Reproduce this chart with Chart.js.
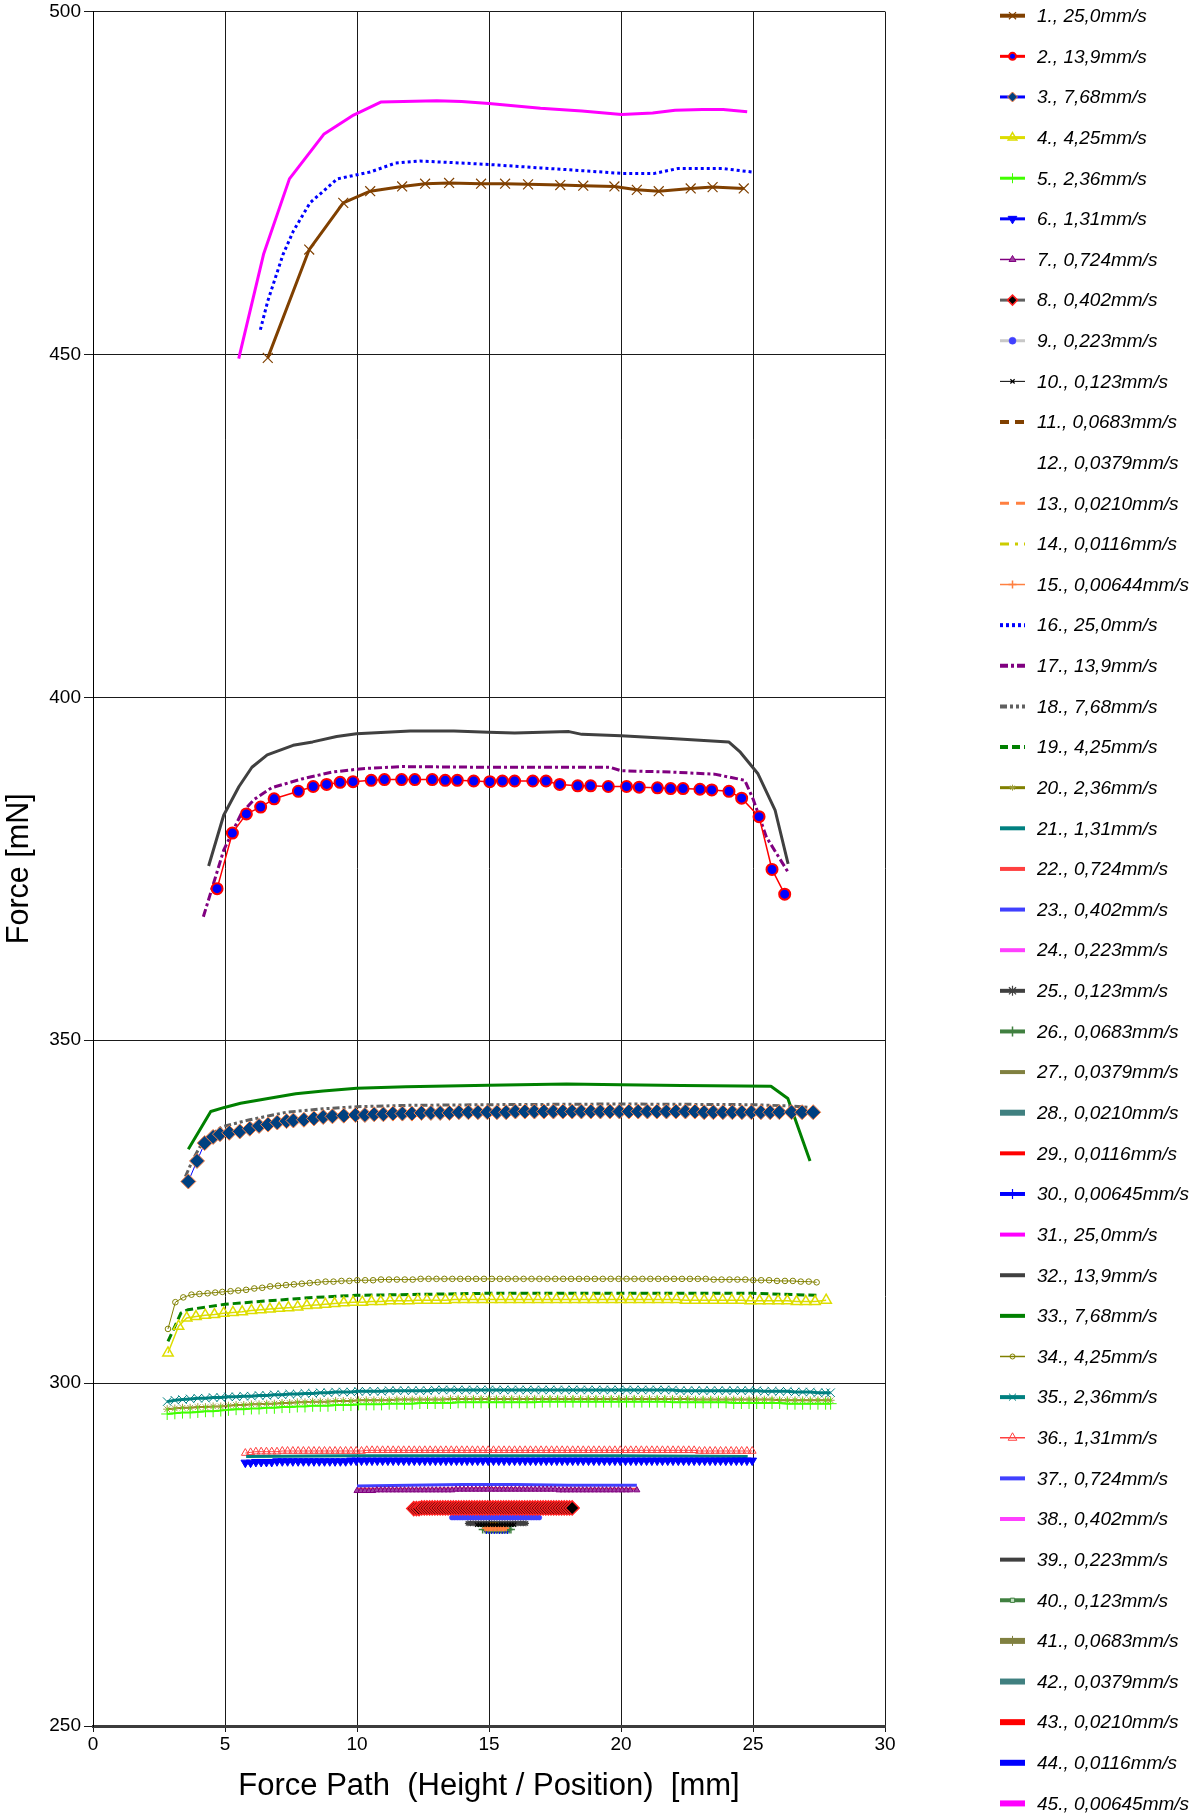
<!DOCTYPE html>
<html>
<head>
<meta charset="utf-8">
<script src="https://cdn.jsdelivr.net/npm/chart.js@4.4.1/dist/chart.umd.min.js"></script>
<style>
html,body{margin:0;padding:0;background:#fff;}
#c{display:block;}
</style>
</head>
<body>
<canvas id="c" width="1194" height="1815"></canvas>
<script>
// ---------------- DATA ----------------
const seriesLabels = [
 "1., 25,0mm/s","2., 13,9mm/s","3., 7,68mm/s","4., 4,25mm/s","5., 2,36mm/s",
 "6., 1,31mm/s","7., 0,724mm/s","8., 0,402mm/s","9., 0,223mm/s","10., 0,123mm/s",
 "11., 0,0683mm/s","12., 0,0379mm/s","13., 0,0210mm/s","14., 0,0116mm/s","15., 0,00644mm/s",
 "16., 25,0mm/s","17., 13,9mm/s","18., 7,68mm/s","19., 4,25mm/s","20., 2,36mm/s",
 "21., 1,31mm/s","22., 0,724mm/s","23., 0,402mm/s","24., 0,223mm/s","25., 0,123mm/s",
 "26., 0,0683mm/s","27., 0,0379mm/s","28., 0,0210mm/s","29., 0,0116mm/s","30., 0,00645mm/s",
 "31., 25,0mm/s","32., 13,9mm/s","33., 7,68mm/s","34., 4,25mm/s","35., 2,36mm/s",
 "36., 1,31mm/s","37., 0,724mm/s","38., 0,402mm/s","39., 0,223mm/s","40., 0,123mm/s",
 "41., 0,0683mm/s","42., 0,0379mm/s","43., 0,0210mm/s","44., 0,0116mm/s","45., 0,00645mm/s"
];
const xTicks = [0,5,10,15,20,25,30];
const yTicks = [250,300,350,400,450,500];

// 25,0 mm/s
const s1x = [6.62,8.19,9.48,10.50,11.71,12.58,13.49,14.70,15.61,16.48,17.70,18.57,19.75,20.60,21.43,22.64,23.47,24.65];
const s1y = [449.5,465.3,472.1,473.8,474.5,474.9,475.0,474.9,474.9,474.8,474.7,474.6,474.5,474.0,473.8,474.2,474.4,474.2];
const s16x = [6.34,6.62,7.20,7.59,8.22,9.25,10.50,11.45,12.39,13.49,15.00,16.95,18.52,20.02,21.27,22.14,23.87,24.97];
const s16y = [453.6,457.8,464.6,468.0,472.1,475.6,476.6,477.9,478.2,478.0,477.7,477.2,476.8,476.4,476.4,477.1,477.1,476.6];
const s31x = [5.52,6.46,7.44,8.74,9.87,10.90,13.02,13.96,15.00,16.95,18.52,20.02,21.20,22.05,23.08,23.87,24.78];
const s31y = [449.4,464.6,475.6,482.1,484.9,486.8,487.0,486.9,486.6,485.9,485.5,485.0,485.2,485.6,485.7,485.7,485.4];

// 13,9 mm/s
const s2x = [4.70,5.28,5.81,6.35,6.86,7.78,8.34,8.85,9.36,9.85,10.54,11.04,11.69,12.19,12.85,13.34,13.80,14.42,15.03,15.51,15.97,16.66,17.16,17.68,18.36,18.85,19.52,20.21,20.69,21.38,21.88,22.35,22.99,23.44,24.09,24.57,25.23,25.72,26.20];
const s2y = [372.1,380.2,383.0,384.0,385.2,386.3,387.0,387.3,387.6,387.7,387.9,388.0,388.0,388.0,388.0,387.9,387.9,387.8,387.7,387.8,387.8,387.8,387.8,387.3,387.1,387.1,387.0,387.0,386.9,386.8,386.7,386.7,386.6,386.5,386.3,385.3,382.6,374.9,371.3];
const s17x = [4.18,4.95,5.61,6.10,6.76,7.91,9.06,10.21,11.69,14.98,17.94,19.59,20.00,21.89,23.54,24.69,25.02,25.51,26.33];
const s17y = [368.0,377.7,383.0,385.1,386.8,388.1,389.1,389.6,389.9,389.8,389.8,389.8,389.3,389.1,388.8,387.9,385.0,379.6,374.5];
const s32x = [4.38,4.95,5.53,6.02,6.60,7.58,8.32,9.23,9.98,12.02,13.67,14.98,15.97,18.03,18.52,20.00,21.89,24.08,24.52,25.18,25.84,26.33];
const s32y = [375.4,382.8,387.0,389.8,391.6,393.0,393.5,394.3,394.7,395.1,395.1,394.9,394.8,395.0,394.6,394.4,394.0,393.5,392.0,388.9,383.5,375.7];

// 7,68 mm/s
const s3x = [3.61,3.94,4.23,4.55,4.81,5.16,5.56,5.94,6.29,6.63,6.98,7.33,7.59,7.99,8.37,8.72,9.07,9.50,9.94,
 10.30,10.65,11.00,11.36,11.72,12.08,12.44,12.80,13.15,13.50,13.86,14.22,14.58,14.94,15.30,15.65,16.00,16.36,16.72,17.08,
 17.44,17.80,18.15,18.50,18.86,19.22,19.58,19.94,20.30,20.65,21.00,21.36,21.72,22.08,22.44,22.80,23.15,23.50,23.86,24.22,
 24.58,24.94,25.30,25.65,26.00,26.46,26.86,27.28];
const s3y = [329.4,332.4,335.0,335.9,336.3,336.5,336.7,337.1,337.5,337.7,338.0,338.2,338.3,338.4,338.6,338.8,338.9,339.0,339.1,
 339.1,339.2,339.2,339.3,339.3,339.3,339.4,339.4,339.4,339.4,339.5,339.5,339.5,339.5,339.5,339.5,339.6,339.6,339.6,339.6,
 339.6,339.6,339.6,339.6,339.6,339.6,339.6,339.6,339.6,339.6,339.6,339.6,339.6,339.6,339.6,339.6,339.5,339.5,339.5,339.5,
 339.5,339.5,339.5,339.5,339.5,339.5,339.5,339.5];
const s18x = [3.50,3.77,4.20,4.90,5.94,7.33,8.72,9.99,11.85,14.98,19.99,25.00,26.46,27.16];
const s18y = [330.1,332.5,335.5,337.4,338.4,339.5,340.0,340.3,340.5,340.6,340.7,340.6,340.4,340.2];
const s33x = [3.61,4.46,4.98,5.59,6.63,7.68,8.72,9.99,11.85,14.98,17.94,19.99,22.29,25.68,26.32,27.16];
const s33y = [334.1,339.6,340.2,340.8,341.5,342.2,342.6,343.0,343.2,343.45,343.6,343.5,343.4,343.3,341.5,332.4];

// 4,25 mm/s
const s4x = [2.84,3.24,3.55,3.90,4.25,4.60,4.95,5.30,5.65,6.00,6.35,6.70,7.05,7.40,7.75,8.10,8.45,8.80,9.15,9.50,
 9.85,10.20,10.55,10.90,11.25,11.60,11.95,12.30,12.65,13.00,13.35,13.70,14.05,14.40,14.75,15.10,15.45,15.80,16.15,16.50,
 16.85,17.20,17.55,17.90,18.25,18.60,18.95,19.30,19.65,20.00,20.35,20.70,21.05,21.40,21.75,22.10,22.45,22.80,23.15,23.50,
 23.85,24.20,24.55,24.90,25.25,25.60,25.95,26.30,26.65,27.00,27.35,27.77];
const s4y = [304.4,308.3,309.5,309.7,309.9,310.0,310.2,310.3,310.4,310.6,310.7,310.8,310.9,311.0,311.1,311.3,311.4,311.5,311.6,311.7,
 311.8,311.8,311.9,311.9,312.0,312.0,312.0,312.1,312.1,312.1,312.1,312.2,312.2,312.2,312.2,312.2,312.2,312.2,312.2,312.2,
 312.2,312.2,312.2,312.2,312.2,312.2,312.2,312.2,312.2,312.2,312.2,312.2,312.2,312.2,312.2,312.2,312.1,312.1,312.1,312.1,
 312.1,312.1,312.1,312.0,312.0,312.0,312.0,312.0,311.9,311.9,311.9,312.1];
const s19x = [2.84,3.07,3.33,3.59,5.00,6.63,8.37,9.99,14.98,19.99,25.00,27.42];
const s19y = [306.1,308.0,310.2,310.7,311.5,312.0,312.5,312.8,313.1,313.1,313.1,312.8];
const s34x = [2.84,3.12,3.42,3.73,4.03,4.34,4.63,4.90,5.21,5.50,5.80,6.11,6.41,6.71,7.01,7.31,7.61,7.91,8.21,8.51,
 8.81,9.11,9.41,9.71,10.01,10.31,10.61,10.91,11.21,11.51,11.81,12.11,12.41,12.71,13.01,13.31,13.61,13.91,14.21,14.51,
 14.81,15.11,15.41,15.71,16.01,16.31,16.61,16.91,17.21,17.51,17.81,18.11,18.41,18.71,19.01,19.31,19.61,19.91,20.21,20.51,
 20.81,21.11,21.41,21.71,22.01,22.31,22.61,22.91,23.21,23.51,23.81,24.11,24.41,24.71,25.01,25.31,25.61,25.91,26.21,26.51,
 26.81,27.11,27.41];
const s34y = [307.9,311.8,312.5,312.9,313.0,313.1,313.2,313.3,313.4,313.5,313.6,313.8,313.9,314.1,314.2,314.3,314.4,314.5,314.6,314.7,
 314.8,314.8,314.9,314.9,315.0,315.0,315.0,315.1,315.1,315.1,315.1,315.1,315.2,315.2,315.2,315.2,315.2,315.2,315.2,315.2,
 315.2,315.2,315.2,315.2,315.2,315.2,315.2,315.2,315.2,315.2,315.2,315.2,315.2,315.2,315.2,315.2,315.2,315.2,315.2,315.2,
 315.2,315.2,315.2,315.2,315.2,315.2,315.2,315.2,315.2,315.1,315.1,315.1,315.1,315.1,315.0,315.0,315.0,314.9,314.9,314.9,
 314.8,314.8,314.7];

// 2,36 mm/s (common sampling)
const s5x = [2.81,3.10,3.39,3.68,3.97,4.26,4.55,4.84,5.13,5.42,5.71,6.00,6.29,6.58,6.87,7.16,7.45,7.74,8.03,8.32,
 8.61,8.90,9.19,9.48,9.77,10.06,10.35,10.64,10.93,11.22,11.51,11.80,12.09,12.38,12.67,12.96,13.25,13.54,13.83,14.12,
 14.41,14.70,14.99,15.28,15.57,15.86,16.15,16.44,16.73,17.02,17.31,17.60,17.89,18.18,18.47,18.76,19.05,19.34,19.63,19.92,
 20.21,20.50,20.79,21.08,21.37,21.66,21.95,22.24,22.53,22.82,23.11,23.40,23.69,23.98,24.27,24.56,24.85,25.14,25.43,25.72,
 26.01,26.30,26.59,26.88,27.17,27.46,27.75,27.94];
const s5y = [295.5,295.6,295.7,295.7,295.8,295.9,295.9,296.0,296.1,296.2,296.2,296.3,296.3,296.4,296.4,296.5,296.5,296.6,296.6,296.7,
 296.7,296.7,296.8,296.8,296.8,296.9,296.9,296.9,296.9,297.0,297.0,297.0,297.0,297.1,297.1,297.1,297.1,297.1,297.2,297.2,
 297.2,297.2,297.2,297.2,297.2,297.2,297.2,297.2,297.2,297.3,297.3,297.3,297.3,297.3,297.3,297.3,297.3,297.3,297.3,297.3,
 297.3,297.3,297.3,297.3,297.3,297.3,297.2,297.2,297.2,297.2,297.2,297.2,297.2,297.2,297.1,297.1,297.1,297.1,297.1,297.1,
 297.1,297.0,297.0,297.0,297.0,297.0,297.0,297.0];
const s20y = [296.2,296.3,296.4,296.4,296.5,296.5,296.6,296.6,296.7,296.8,296.8,296.9,296.9,297.0,297.0,297.1,297.1,297.2,297.2,297.3,
 297.3,297.3,297.4,297.4,297.4,297.5,297.5,297.5,297.5,297.5,297.6,297.6,297.6,297.6,297.6,297.6,297.6,297.7,297.7,297.7,
 297.7,297.7,297.7,297.7,297.7,297.7,297.7,297.7,297.7,297.7,297.7,297.7,297.7,297.7,297.7,297.7,297.7,297.7,297.7,297.7,
 297.7,297.7,297.7,297.7,297.7,297.7,297.7,297.7,297.7,297.6,297.6,297.6,297.6,297.6,297.6,297.6,297.6,297.6,297.6,297.6,
 297.5,297.5,297.5,297.5,297.5,297.5,297.5,297.5];
const s35y = [297.3,297.5,297.6,297.7,297.8,297.8,297.9,297.9,298.0,298.0,298.1,298.1,298.2,298.2,298.3,298.3,298.4,298.4,298.5,298.5,
 298.6,298.6,298.7,298.7,298.7,298.8,298.8,298.8,298.8,298.9,298.9,298.9,298.9,298.9,298.9,299.0,299.0,299.0,299.0,299.0,
 299.0,299.0,299.0,299.0,299.0,299.0,299.0,299.0,299.0,299.0,299.0,299.0,299.0,299.0,299.0,299.0,299.0,299.0,299.0,299.0,
 299.0,299.0,299.0,299.0,299.0,299.0,299.0,298.9,298.9,298.9,298.9,298.9,298.9,298.9,298.9,298.9,298.9,298.9,298.8,298.8,
 298.8,298.8,298.7,298.7,298.7,298.6,298.6,298.6];

// 1,31 mm/s (common sampling)
const s6x = [5.77,5.97,6.17,6.37,6.57,6.77,6.97,7.17,7.37,7.57,7.77,7.97,8.17,8.37,8.57,8.77,8.97,9.17,9.37,9.57,
 9.77,9.97,10.17,10.37,10.57,10.77,10.97,11.17,11.37,11.57,11.77,11.97,12.17,12.37,12.57,12.77,12.97,13.17,13.37,13.57,
 13.77,13.97,14.17,14.37,14.57,14.77,14.97,15.17,15.37,15.57,15.77,15.97,16.17,16.37,16.57,16.77,16.97,17.17,17.37,17.57,
 17.77,17.97,18.17,18.37,18.57,18.77,18.97,19.17,19.37,19.57,19.77,19.97,20.17,20.37,20.57,20.77,20.97,21.17,21.37,21.57,
 21.77,21.97,22.17,22.37,22.57,22.77,22.97,23.17,23.37,23.57,23.77,23.97,24.17,24.37,24.57,24.77,24.97];
const s6y = [288.4,288.4,288.5,288.5,288.5,288.5,288.6,288.6,288.6,288.6,288.6,288.6,288.6,288.6,288.6,288.6,288.6,288.6,288.6,288.6,
 288.7,288.7,288.7,288.7,288.7,288.7,288.7,288.7,288.7,288.7,288.7,288.7,288.7,288.7,288.7,288.7,288.7,288.7,288.7,288.7,
 288.7,288.7,288.7,288.7,288.7,288.7,288.7,288.7,288.7,288.7,288.7,288.7,288.7,288.7,288.7,288.7,288.7,288.7,288.7,288.7,
 288.7,288.7,288.7,288.7,288.7,288.7,288.7,288.7,288.7,288.7,288.7,288.7,288.7,288.7,288.7,288.7,288.7,288.7,288.7,288.7,
 288.7,288.7,288.7,288.7,288.7,288.7,288.7,288.7,288.7,288.7,288.7,288.7,288.7,288.7,288.7,288.7,288.7];
const s36y = [289.8,289.9,290.0,290.0,290.0,290.0,290.0,290.1,290.1,290.1,290.1,290.1,290.1,290.1,290.1,290.1,290.1,290.1,290.1,290.1,
 290.1,290.1,290.1,290.2,290.2,290.2,290.2,290.2,290.2,290.2,290.2,290.2,290.2,290.2,290.2,290.2,290.2,290.2,290.2,290.2,
 290.2,290.2,290.2,290.2,290.2,290.2,290.2,290.2,290.2,290.2,290.2,290.2,290.2,290.2,290.2,290.2,290.2,290.2,290.2,290.2,
 290.2,290.2,290.2,290.2,290.2,290.2,290.2,290.2,290.2,290.2,290.2,290.2,290.2,290.2,290.2,290.2,290.2,290.2,290.2,290.2,
 290.2,290.2,290.2,290.2,290.2,290.2,290.1,290.1,290.1,290.1,290.1,290.1,290.1,290.1,290.1,290.1,290.1];
const s21x = [5.80,10.00,15.00,20.00,24.80];
const s21y = [289.3,289.4,289.4,289.4,289.3];

// 0,724 mm/s
const s7x = [10.00,10.15,10.30,10.45,10.60,10.75,10.90,11.05,11.20,11.35,11.50,11.65,11.80,11.95,12.10,12.25,12.40,12.55,12.70,12.85,
 13.00,13.15,13.30,13.45,13.60,13.75,13.90,14.05,14.20,14.35,14.50,14.65,14.80,14.95,15.10,15.25,15.40,15.55,15.70,15.85,
 16.00,16.15,16.30,16.45,16.60,16.75,16.90,17.05,17.20,17.35,17.50,17.65,17.80,17.95,18.10,18.25,18.40,18.55,18.70,18.85,
 19.00,19.15,19.30,19.45,19.60,19.75,19.90,20.05,20.20,20.35,20.60];
const s7y = [284.3,284.3,284.3,284.3,284.3,284.4,284.4,284.4,284.4,284.4,284.4,284.4,284.4,284.4,284.4,284.4,284.4,284.4,284.4,284.4,
 284.4,284.4,284.4,284.4,284.4,284.5,284.5,284.5,284.5,284.5,284.5,284.5,284.5,284.5,284.5,284.5,284.5,284.5,284.5,284.5,
 284.5,284.5,284.5,284.5,284.5,284.5,284.5,284.5,284.5,284.5,284.5,284.4,284.4,284.4,284.4,284.4,284.4,284.4,284.4,284.4,
 284.4,284.4,284.4,284.4,284.4,284.4,284.4,284.4,284.4,284.4,284.4];
const s22x = [10.00,12.50,15.00,17.50,20.60];
const s22y = [284.6,284.6,284.7,284.6,284.6];
const s37x = [10.00,12.00,14.00,16.00,18.00,20.60];
const s37y = [285.0,285.1,285.2,285.2,285.1,285.1];

// 0,402 mm/s
const s8x = [12.15,12.25,12.35,12.45,12.55,12.65,12.75,12.85,12.95,13.05,13.15,13.25,13.35,13.45,13.55,13.65,13.75,13.85,13.95,14.05,
 14.15,14.25,14.35,14.45,14.55,14.65,14.75,14.85,14.95,15.05,15.15,15.25,15.35,15.45,15.55,15.65,15.75,15.85,15.95,16.05,
 16.15,16.25,16.35,16.45,16.55,16.65,16.75,16.85,16.95,17.05,17.15,17.25,17.35,17.45,17.55,17.65,17.75,17.85,17.95,18.05,18.15];
const s8y = [281.7,281.7,281.7,281.8,281.8,281.8,281.8,281.8,281.8,281.8,281.8,281.8,281.8,281.8,281.8,281.8,281.8,281.8,281.8,281.8,
 281.8,281.8,281.8,281.8,281.8,281.8,281.8,281.8,281.8,281.8,281.8,281.8,281.8,281.8,281.8,281.8,281.8,281.8,281.8,281.8,
 281.8,281.8,281.8,281.8,281.8,281.8,281.8,281.8,281.8,281.8,281.8,281.8,281.8,281.8,281.8,281.8,281.8,281.8,281.8,281.8,281.8];
const s23x = [12.30,15.20,18.00];
const s23y = [281.8,281.8,281.8];
const s38x = [12.30,15.20,18.00];
const s38y = [281.8,281.9,281.8];

// 0,223 mm/s
const s9x = [13.60,13.70,13.80,13.90,14.00,14.10,14.20,14.30,14.40,14.50,14.60,14.70,14.80,14.90,15.00,15.10,15.20,15.30,15.40,15.50,
 15.60,15.70,15.80,15.90,16.00,16.10,16.20,16.30,16.40,16.50,16.60,16.70,16.80,16.90];
const s9y = [280.4,280.4,280.4,280.4,280.4,280.4,280.4,280.4,280.4,280.4,280.4,280.4,280.4,280.4,280.4,280.4,280.4,280.4,280.4,280.4,
 280.4,280.4,280.4,280.4,280.4,280.4,280.4,280.4,280.4,280.4,280.4,280.4,280.4,280.4];
const s24x = [13.70,15.00,16.80];
const s24y = [280.4,280.4,280.4];
const s39x = [13.70,15.00,16.80];
const s39y = [280.4,280.4,280.4];

// 0,123 mm/s
const s10x = [14.55,14.65,14.75,14.85,14.95,15.05,15.15,15.25,15.35,15.45,15.55,15.65,15.75,15.85,15.95];
const s10y = [279.35,279.35,279.35,279.35,279.35,279.35,279.35,279.35,279.35,279.35,279.35,279.35,279.35,279.35,279.35];
const s25x = [14.20,14.30,14.40,14.50,14.60,14.70,14.80,14.90,15.00,15.10,15.20,15.30,15.40,15.50,15.60,15.70,15.80,15.90,16.00,16.10,16.20,16.30,16.40];
const s25y = [279.55,279.55,279.55,279.55,279.55,279.55,279.55,279.55,279.55,279.55,279.55,279.55,279.55,279.55,279.55,279.55,279.55,279.55,279.55,279.55,279.55,279.55,279.55];
const s40x = [14.60,15.20,15.90];
const s40y = [279.4,279.4,279.4];

// 0,0683 mm/s and slower
const s11x = [15.00,15.40];
const s11y = [279.45,279.45];
const s26x = [14.76,14.86,14.96,15.06,15.16,15.26,15.36,15.46,15.56,15.66,15.76,15.83];
const s26y = [278.65,278.65,278.65,278.65,278.65,278.65,278.65,278.65,278.65,278.65,278.65,278.65];
const s41x = [15.00,15.50];
const s41y = [278.6,278.6];
const s12x = [14.90,15.60];
const s12y = [278.8,278.8];
const s27x = [14.95,15.55];
const s27y = [278.7,278.7];
const s42x = [15.00,15.50];
const s42y = [278.6,278.6];
const s13x = [14.82,15.20,15.68];
const s13y = [278.85,278.85,278.85];
const s28x = [14.95,15.55];
const s28y = [278.7,278.7];
const s43x = [15.00,15.50];
const s43y = [278.6,278.6];
const s14x = [15.05,15.35];
const s14y = [279.45,279.45];
const s29x = [14.95,15.55];
const s29y = [278.7,278.7];
const s44x = [15.00,15.50];
const s44y = [278.55,278.55];
const s15x = [14.85,14.90,14.95,15.00,15.05,15.10,15.15,15.20,15.25,15.30,15.35,15.40,15.45,15.50,15.55,15.60,15.65];
const s15y = [278.85,278.85,278.85,278.85,278.85,278.85,278.85,278.85,278.85,278.85,278.85,278.85,278.85,278.85,278.85,278.85,278.85];
const s30x = [14.90,15.00,15.10,15.20,15.30,15.40,15.50,15.60,15.70];
const s30y = [278.35,278.35,278.35,278.35,278.35,278.35,278.35,278.35,278.35];
const s45x = [15.00,15.50];
const s45y = [278.6,278.6];

const seriesX = [s1x,s2x,s3x,s4x,s5x,s6x,s7x,s8x,s9x,s10x,s11x,s12x,s13x,s14x,s15x,
 s16x,s17x,s18x,s19x,s5x,s21x,s22x,s23x,s24x,s25x,s26x,s27x,s28x,s29x,s30x,
 s31x,s32x,s33x,s34x,s5x,s6x,s37x,s38x,s39x,s40x,s41x,s42x,s43x,s44x,s45x];
const seriesY = [s1y,s2y,s3y,s4y,s5y,s6y,s7y,s8y,s9y,s10y,s11y,s12y,s13y,s14y,s15y,
 s16y,s17y,s18y,s19y,s20y,s21y,s22y,s23y,s24y,s25y,s26y,s27y,s28y,s29y,s30y,
 s31y,s32y,s33y,s34y,s35y,s36y,s37y,s38y,s39y,s40y,s41y,s42y,s43y,s44y,s45y];

// ---------------- STYLES ----------------
const T = 'rgba(0,0,0,0)';
const STY = [
 {c:'#804000',w:3,lw:4,ps:'crossRot',pr:7,lpr:5,bg:'#804000',bc:'#804000',bw:1.2},
 {c:'#FF0000',w:1.5,lw:3,ps:'circle',pr:5.5,lpr:3.5,bg:'#0000FF',bc:'#FF0000',bw:2},
 {c:'#0000FF',w:1,lw:3,ps:'rectRot',pr:7.5,lpr:5,bg:'#004080',bc:'#FF8040',bw:1},
 {c:'#DDDD00',w:1.5,lw:3,ps:'triangle',pr:6,lpr:5,bg:T,bc:'#DDDD00',bw:1.5},
 {c:'#40FF00',w:2,lw:3,ps:'cross',pr:6,lpr:5,bg:T,bc:'#40FF00',bw:1},
 {c:'#0000FF',w:3,lw:3,ps:'triangle',rot:180,pr:5,lpr:5,bg:'#0000FF',bc:'#0000FF',bw:1},
 {c:'#800080',w:1,lw:1.5,ps:'triangle',pr:3.5,lpr:4,bg:'#A040A0',bc:'#800080',bw:1},
 {c:'#606060',w:2,lw:3,ps:'rectRot',pr:7,lpr:5,bg:'#000000',bc:'#FF2020',bw:1.5},
 {c:'#C8C8C8',w:2,lw:3,ps:'circle',pr:2.6,lpr:3.5,bg:'#4040FF',bc:'#4040FF',bw:0.5},
 {c:'#000000',w:1,lw:1,ps:'crossRot',pr:3,lpr:3,bg:T,bc:'#000000',bw:1.2},
 {c:'#804000',w:3,lw:4,d:[9,6]},
 {c:T,w:1,lw:1},
 {c:'#FF8040',w:3,lw:3,d:[9,7]},
 {c:'#CCCC00',w:3,lw:3,d:[9,6,3,6]},
 {c:'#FF8040',w:1.5,lw:1.5,ps:'cross',pr:3,lpr:4,bg:T,bc:'#FF8040',bw:1.5},
 {c:'#0000FF',w:3,lw:4,d:[3,3]},
 {c:'#800080',w:3,lw:4,d:[8,3,3,3]},
 {c:'#606060',w:3,lw:4,d:[7,3,3,3,3,3]},
 {c:'#008000',w:3,lw:4,d:[8,4]},
 {c:'#808000',w:2,lw:3,ps:'star',pr:4,lpr:3,bg:T,bc:'#A0A040',bw:1},
 {c:'#008080',w:3,lw:4},
 {c:'#FF4040',w:2,lw:4},
 {c:'#4040FF',w:3,lw:4},
 {c:'#FF40FF',w:3,lw:4},
 {c:'#404040',w:3,lw:4,ps:'star',pr:3,lpr:5,bg:T,bc:'#404040',bw:1.2},
 {c:'#408040',w:3,lw:4,ps:'cross',pr:4,lpr:5,bg:T,bc:'#408040',bw:1.5},
 {c:'#808040',w:3,lw:4},
 {c:'#408080',w:5,lw:6},
 {c:'#FF0000',w:3,lw:4},
 {c:'#0000FF',w:3,lw:4,ps:'cross',pr:2.5,lpr:5,bg:T,bc:'#0000FF',bw:1.2},
 {c:'#FF00FF',w:3,lw:4},
 {c:'#404040',w:3,lw:4},
 {c:'#008000',w:3,lw:4},
 {c:'#808000',w:1,lw:1.5,ps:'circle',pr:2.8,lpr:2.5,bg:T,bc:'#808000',bw:1},
 {c:'#008080',w:3,lw:4,ps:'crossRot',pr:6,lpr:5,bg:T,bc:'#008080',bw:1},
 {c:'#FF4040',w:1,lw:1.5,ps:'triangle',pr:4.5,lpr:5,bg:T,bc:'#FF4040',bw:1},
 {c:'#4040FF',w:3,lw:4},
 {c:'#FF40FF',w:3,lw:4},
 {c:'#404040',w:3,lw:4},
 {c:'#408040',w:3,lw:4,ps:'rect',pr:2.5,lpr:3,bg:'#C0E0C0',bc:'#408040',bw:1},
 {c:'#808040',w:5,lw:6,ps:'cross',pr:4,lpr:5,bg:T,bc:'#808040',bw:1},
 {c:'#408080',w:5,lw:6},
 {c:'#FF0000',w:5,lw:6},
 {c:'#0000FF',w:5,lw:6},
 {c:'#FF00FF',w:5,lw:6}
];

// ---------------- FONTS ----------------
const hasNarrow = (function(){
  const g = document.createElement('canvas').getContext('2d');
  g.font = '40px monospace'; const a = g.measureText('0123456789 Force Path').width;
  g.font = '40px "Liberation Sans Narrow", monospace'; const b = g.measureText('0123456789 Force Path').width;
  return Math.abs(a-b) > 1;
})();
const AXF = hasNarrow ? '"Liberation Sans Narrow", "Liberation Sans", Arial, sans-serif' : '"Liberation Sans", Arial, sans-serif';
const TICK_SIZE = hasNarrow ? 22 : 19;
const XT_SIZE = hasNarrow ? 38 : 31;
const YT_SIZE = hasNarrow ? 37 : 30.5;

// ---------------- DATASETS ----------------
const datasets = seriesLabels.map((lab,i)=>{
  const s = STY[i];
  const xs = seriesX[i], ys = seriesY[i];
  return {
    label: lab,
    data: xs.map((x,k)=>({x:x, y:ys[k]})),
    showLine: true,
    borderColor: s.c,
    borderWidth: s.w,
    borderDash: s.d || [],
    borderCapStyle: 'butt',
    borderJoinStyle: 'round',
    tension: 0,
    pointStyle: s.ps || 'circle',
    pointRadius: s.ps ? s.pr : 0,
    pointHoverRadius: s.ps ? s.pr : 0,
    pointBackgroundColor: s.bg || s.c,
    pointBorderColor: s.bc || s.c,
    pointBorderWidth: s.bw || 1,
    pointRotation: s.rot || 0,
    fill: false
  };
});

// ---------------- LEGEND (drawn on canvas) ----------------
const LEG = {x0:1000, x1:1025, tx:1037, y0:15.7, dy:40.63};
const sideLegend = {
  id: 'sideLegend',
  afterDraw(chart){
    const ctx = chart.ctx;
    ctx.save();
    chart.data.datasets.forEach((ds,i)=>{
      const s = STY[i];
      const y = LEG.y0 + i*LEG.dy;
      ctx.beginPath();
      ctx.setLineDash(s.d || []);
      ctx.lineWidth = s.lw;
      ctx.lineCap = 'butt';
      ctx.strokeStyle = s.c;
      ctx.moveTo(LEG.x0, y); ctx.lineTo(LEG.x1, y); ctx.stroke();
      ctx.setLineDash([]);
      if (s.ps) {
        ctx.fillStyle = s.bg || s.c;
        ctx.strokeStyle = s.bc || s.c;
        ctx.lineWidth = s.bw || 1;
        Chart.helpers.drawPoint(ctx, {pointStyle:s.ps, rotation:s.rot||0, radius:s.lpr, borderWidth:s.bw||1}, (LEG.x0+LEG.x1)/2, y);
      }
      ctx.fillStyle = '#000';
      ctx.font = 'italic 19px "Liberation Sans", Arial, sans-serif';
      ctx.textBaseline = 'middle';
      ctx.textAlign = 'left';
      ctx.fillText(ds.label, LEG.tx, y + 1);
    });
    ctx.restore();
  }
};

// ---------------- CHART ----------------
new Chart(document.getElementById('c').getContext('2d'), {
  type: 'scatter',
  data: { datasets },
  options: {
    responsive: false,
    animation: false,
    devicePixelRatio: 1,
    layout: { padding: { left: 0, right: 309, top: 10.4, bottom: 0 } },
    plugins: { legend: { display: false }, tooltip: { enabled: false } },
    events: [],
    scales: {
      x: {
        type: 'linear', min: xTicks[0], max: xTicks[xTicks.length-1],
        afterBuildTicks(s){ s.ticks = xTicks.map(v=>({value:v})); },
        ticks: { color: '#000', font: { family: AXF, size: TICK_SIZE, lineHeight: 1.0 }, padding: 3, maxRotation: 0, autoSkip: false },
        grid: { color: '#1a1a1a', lineWidth: 1, tickLength: 6, tickColor: '#1a1a1a' },
        border: { color: '#3c3c3c', width: 3 },
        title: { display: true, text: 'Force Path  (Height / Position)  [mm]', color: '#000',
                 font: { family: AXF, size: XT_SIZE }, padding: { top: 0, bottom: 10 } },
        afterFit(s){ s.height = 89; }
      },
      y: {
        type: 'linear', min: yTicks[0], max: yTicks[yTicks.length-1],
        afterBuildTicks(s){ s.ticks = yTicks.map(v=>({value:v})); },
        ticks: { color: '#000', font: { family: AXF, size: TICK_SIZE, lineHeight: 0.9 }, padding: 3, autoSkip: false },
        grid: { color: '#1a1a1a', lineWidth: 1, tickLength: 9, tickColor: '#1a1a1a' },
        border: { color: '#000', width: 1 },
        title: { display: true, text: 'Force [mN]', color: '#000',
                 font: { family: AXF, size: YT_SIZE }, padding: { top: 1, bottom: 0 } },
        afterFit(s){ s.width = 93; }
      }
    }
  },
  plugins: [sideLegend]
});
</script>
</body>
</html>
